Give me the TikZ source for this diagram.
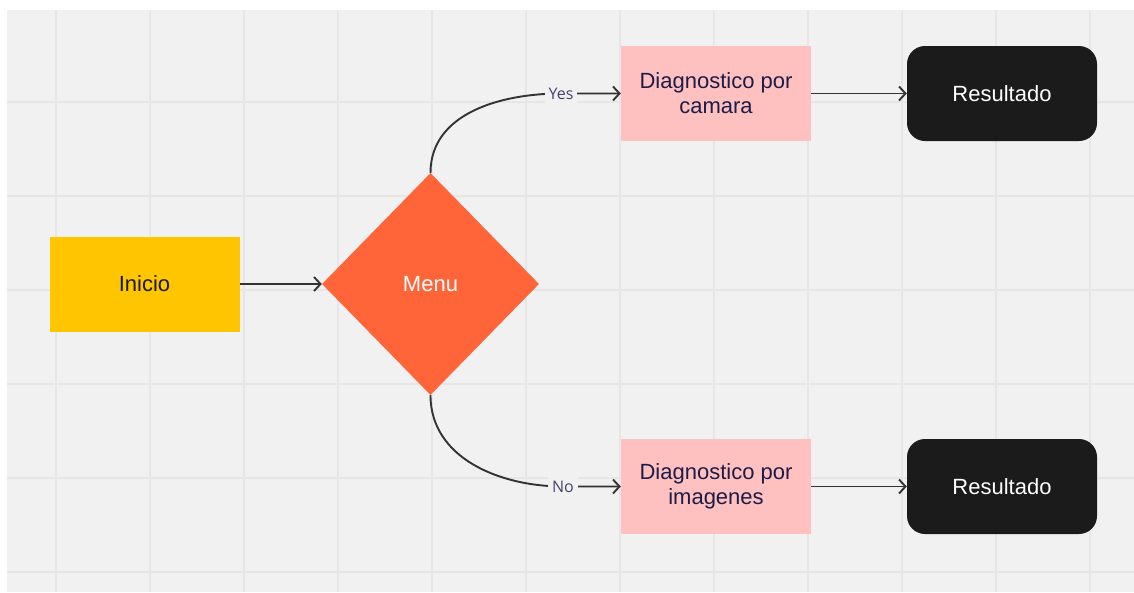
\documentclass[tikz,border=0pt]{standalone}
\usepackage{fontspec}
\setmainfont{Liberation Sans}
\newfontfamily\lblfont{Open Sans}
\usetikzlibrary{shapes.geometric,arrows.meta,positioning}
\definecolor{bgc}{HTML}{F1F1F1}
\definecolor{gridc}{HTML}{E6E6E6}
\definecolor{inicioc}{HTML}{FFC600}
\definecolor{menuc}{HTML}{FF6539}
\definecolor{diagc}{HTML}{FFC0C0}
\definecolor{resc}{HTML}{1B1B1B}
\definecolor{linec}{HTML}{333333}
\definecolor{txtc}{HTML}{1C1C48}
\definecolor{lblc}{HTML}{45456E}

\begin{document}
\begin{tikzpicture}[x=1pt, y=-1pt, >={Straight Barb[length=6.5pt,width=14pt]},
    box/.style={rectangle, minimum width=190pt, minimum height=95pt, inner sep=0pt, align=center, font=\fontsize{22}{25}\selectfont},
    res/.style={box, rounded corners=18pt, fill=resc, text=white},
    flow/.style={->, draw=linec, line width=1.9pt},
    lbl/.style={fill=bgc, text=lblc, inner sep=4pt, font=\lblfont\fontsize{16}{18}\selectfont}]
      \useasboundingbox (0,0) rectangle (1134,592);
      \fill[bgc] (7,10) rectangle (1134,592);
      \foreach \x in {56,150,...,1090}
        \draw[gridc, line width=1.5pt] (\x,10) -- (\x,592);
      \foreach \y in {102,196,...,572}
        \draw[gridc, line width=1.5pt] (7,\y) -- (1134,\y);

      \node[box, fill=inicioc, text=black!90] (inicio) at (144.5,284) {Inicio};
      \node[diamond, fill=menuc, text=white, minimum width=217pt, minimum height=222pt, inner sep=0pt, font=\fontsize{22}{25}\selectfont] (menu) at (430.5,284) {Menu};
      \node[box, fill=diagc, text=txtc] (dcam) at (716,93.5) {Diagnostico por\\camara};
      \node[box, fill=diagc, text=txtc] (dimg) at (716,486.5) {Diagnostico por\\imagenes};
      \node[res] (rcam) at (1002,93.5) {Resultado};
      \node[res] (rimg) at (1002,486.5) {Resultado};

      \coordinate (yes) at (561,93.5);
      \coordinate (no) at (563,486.5);

      \draw[flow] (inicio.east) -- (menu.west);
      \draw[flow] (menu.north) to[out=90, in=180] (yes) -- (dcam.west);
      \draw[flow] (menu.south) to[out=-90, in=180] (no) -- (dimg.west);
      \draw[flow] (dcam.east) -- (rcam.west);
      \draw[flow] (dimg.east) -- (rimg.west);

      \node[lbl] (yeslbl) at (yes) {Yes};
      \node[lbl] (nolbl) at (no) {No};
    \end{tikzpicture}
\end{document}
